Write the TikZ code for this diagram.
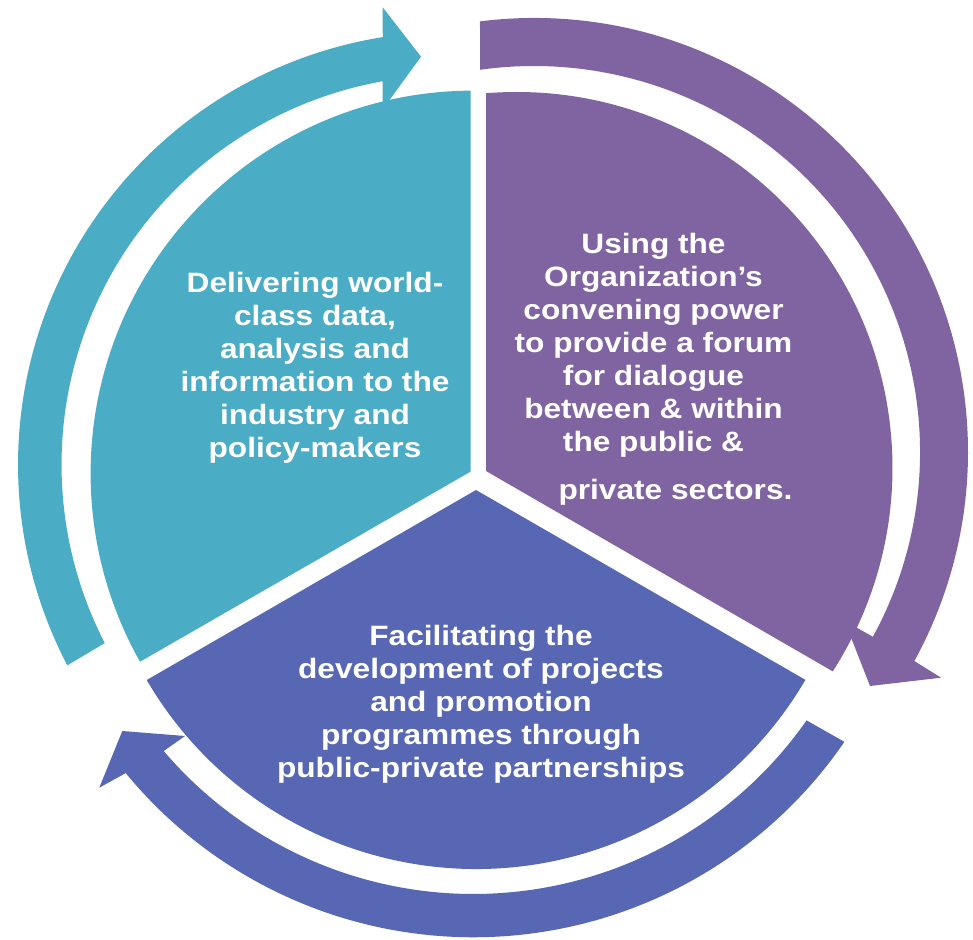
\documentclass[tikz,border=0pt]{standalone}
\usepackage{fontspec}
\newfontfamily\lblfont{Liberation Sans}[FakeStretch=1.13]
\definecolor{tealc}{HTML}{4BACC6}
\definecolor{purplec}{HTML}{8064A2}
\definecolor{bluec}{HTML}{5867B3}
\begin{document}
\begin{tikzpicture}[x=1pt,y=1pt,
  lbl/.style={text=white, font=\lblfont\bfseries\fontsize{28}{33}\selectfont, align=center, inner sep=0pt}]
\useasboundingbox (0,0) rectangle (973,939);
% sectors
\fill[tealc] (470.5,467.3) -- ([shift={(473.6,465.4)}]90.46:383) arc[start angle=90.46, end angle=209.42, radius=383] -- cycle;
\fill[purplec] (486,468) -- ([shift={(516.5,471)}]94.65:376) arc[start angle=94.65, end angle=-32.74, radius=376] -- cycle;
\fill[bluec] (476,449) -- ([shift={(476,451.4)}]210.3:381.4) arc[start angle=210.3, end angle=329.73, radius=381.4] -- cycle;
% arrows
\fill[tealc] ([shift={(451,474.3)}]207.61:433) arc[start angle=207.61, end angle=99.07, radius=433]
  -- (382.7,931.7) -- (421,882.3) -- (382.7,829.6)
  -- ([shift={(451,474.3)}]100.1:389.5) arc[start angle=100.1, end angle=207.26, radius=389.5] -- cycle;
\fill[purplec] ([shift={(534,487)}]97.15:434) arc[start angle=97.15, end angle=-28.79, radius=434]
  -- (941,261.3) -- (870,253) -- (844.5,318.2)
  -- ([shift={(534,487)}]-28.6:386) arc[start angle=-28.6, end angle=98.04, radius=386] -- cycle;
\fill[bluec] ([shift={(473.3,451.7)}]-34.45:450) arc[start angle=-34.45, end angle=-140.57, radius=450]
  -- (99.3,151.3) -- (122.3,208) -- (185,203)
  -- ([shift={(473.3,451.7)}]-139.57:406.7) arc[start angle=-139.57, end angle=-34.97, radius=406.7] -- cycle;
% texts
\node[lbl] (t1) at (315,571.1) {Delivering world-\\class data,\\analysis and\\information to the\\industry and\\policy-makers};
\node[lbl] (t2) at (653.5,569.75) {Using the\\Organization’s\\convening power\\to provide a forum\\for dialogue\\between \& within\\the public \&\\[14.6pt]\hspace*{44pt}private sectors.};
\node[lbl] (t3) at (481,235.2) {Facilitating the\\development of projects\\and promotion\\programmes through\\public-private partnerships};
\end{tikzpicture}
\end{document}
